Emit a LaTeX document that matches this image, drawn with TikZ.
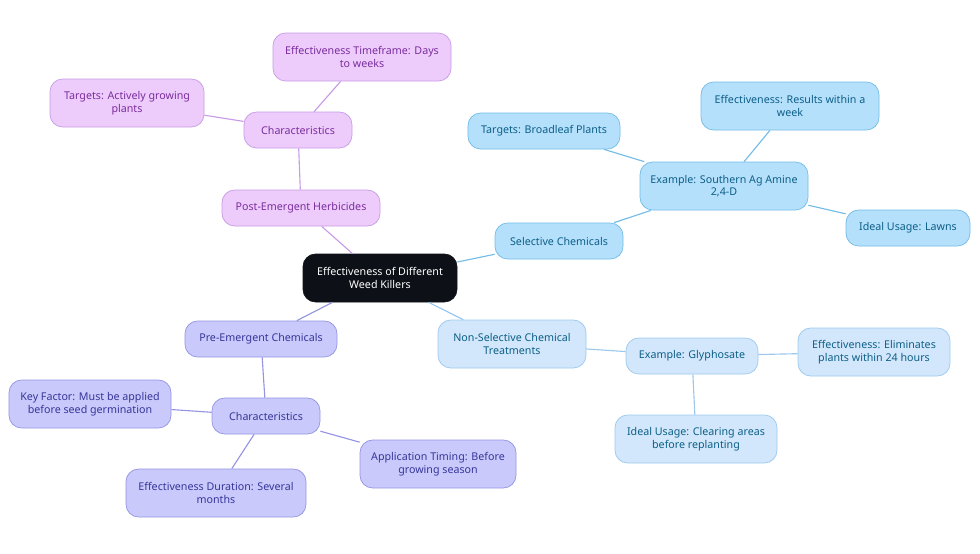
\documentclass[tikz,border=0pt]{standalone}
\usepackage{fontspec}
\setmainfont{Noto Sans}
\definecolor{rootfill}{HTML}{0D1117}
\definecolor{pfill}{HTML}{EDCBFB}\definecolor{pline}{HTML}{C79BE6}\definecolor{ptext}{HTML}{7A2E9E}
\definecolor{bfill}{HTML}{B5E0FB}\definecolor{bline}{HTML}{72BCE6}\definecolor{btext}{HTML}{0D5F88}
\definecolor{cfill}{HTML}{D2E7FB}\definecolor{cline}{HTML}{9CC8EE}
\definecolor{lfill}{HTML}{C9C9FB}\definecolor{lline}{HTML}{9494E2}\definecolor{ltext}{HTML}{36369A}

\begin{document}
\begin{tikzpicture}[x=0.025cm,y=-0.025cm,
  box/.style={rounded corners=9pt,align=center,font=\fontsize{7.6}{9}\selectfont,
    inner sep=0pt,line width=0.5pt},
  root node/.style={box,fill=rootfill,draw=rootfill,text=white},
  post node/.style={box,fill=pfill,draw=pline,text=ptext},
  sel node/.style={box,fill=bfill,draw=bline,text=btext},
  non node/.style={box,fill=cfill,draw=cline,text=btext},
  pre node/.style={box,fill=lfill,draw=lline,text=ltext}]
  \useasboundingbox (0,0) rectangle (980,553);
  \node[root node, minimum width=154*0.025cm, minimum height=48*0.025cm] (root) at (380,278)
    {Effectiveness of Different\\Weed Killers};
  % post-emergent
  \node[post node, minimum width=158*0.025cm, minimum height=36*0.025cm] (post) at (301,208) {Post-Emergent Herbicides};
  \node[post node, minimum width=108*0.025cm, minimum height=36*0.025cm] (pchar) at (298,130) {Characteristics};
  \node[post node, minimum width=178*0.025cm, minimum height=48*0.025cm] (ptime) at (362,57) {Effectiveness Timeframe: Days\\to weeks};
  \node[post node, minimum width=154*0.025cm, minimum height=48*0.025cm] (ptarget) at (127,103) {Targets: Actively growing\\plants};
  % selective
  \node[sel node, minimum width=128*0.025cm, minimum height=36*0.025cm] (sel) at (559,241) {Selective Chemicals};
  \node[sel node, minimum width=168*0.025cm, minimum height=48*0.025cm] (samine) at (724,186) {Example: Southern Ag Amine\\2,4-D};
  \node[sel node, minimum width=152*0.025cm, minimum height=36*0.025cm] (starget) at (544,131) {Targets: Broadleaf Plants};
  \node[sel node, minimum width=178*0.025cm, minimum height=48*0.025cm] (seff) at (790,106) {Effectiveness: Results within a\\week};
  \node[sel node, minimum width=124*0.025cm, minimum height=36*0.025cm] (suse) at (908,228) {Ideal Usage: Lawns};
  % non-selective
  \node[non node, minimum width=148*0.025cm, minimum height=48*0.025cm] (non) at (512,344) {Non-Selective Chemical\\Treatments};
  \node[non node, minimum width=132*0.025cm, minimum height=36*0.025cm] (nglyph) at (692,356) {Example: Glyphosate};
  \node[non node, minimum width=152*0.025cm, minimum height=48*0.025cm] (neff) at (874,352) {Effectiveness: Eliminates\\plants within 24 hours};
  \node[non node, minimum width=162*0.025cm, minimum height=48*0.025cm] (nuse) at (696,439) {Ideal Usage: Clearing areas\\before replanting};
  % pre-emergent
  \node[pre node, minimum width=152*0.025cm, minimum height=36*0.025cm] (pre) at (261,339) {Pre-Emergent Chemicals};
  \node[pre node, minimum width=108*0.025cm, minimum height=36*0.025cm] (rchar) at (266,416) {Characteristics};
  \node[pre node, minimum width=162*0.025cm, minimum height=48*0.025cm] (rkey) at (90,404) {Key Factor: Must be applied\\before seed germination};
  \node[pre node, minimum width=156*0.025cm, minimum height=48*0.025cm] (rtime) at (438,464) {Application Timing: Before\\growing season};
  \node[pre node, minimum width=180*0.025cm, minimum height=48*0.025cm] (rdur) at (216,493) {Effectiveness Duration: Several\\months};
  \path[draw=pline,line width=0.8pt]
    (root) edge (post) (post) edge (pchar) (pchar) edge (ptime) (pchar) edge (ptarget);
  \path[draw=bline,line width=0.8pt]
    (root) edge (sel) (sel) edge (samine) (samine) edge (starget) (samine) edge (seff) (samine) edge (suse);
  \path[draw=cline,line width=0.8pt]
    (root) edge (non) (non) edge (nglyph) (nglyph) edge (neff) (nglyph) edge (nuse);
  \path[draw=lline,line width=0.8pt]
    (root) edge (pre) (pre) edge (rchar) (rchar) edge (rkey) (rchar) edge (rtime) (rchar) edge (rdur);
\end{tikzpicture}
\end{document}
